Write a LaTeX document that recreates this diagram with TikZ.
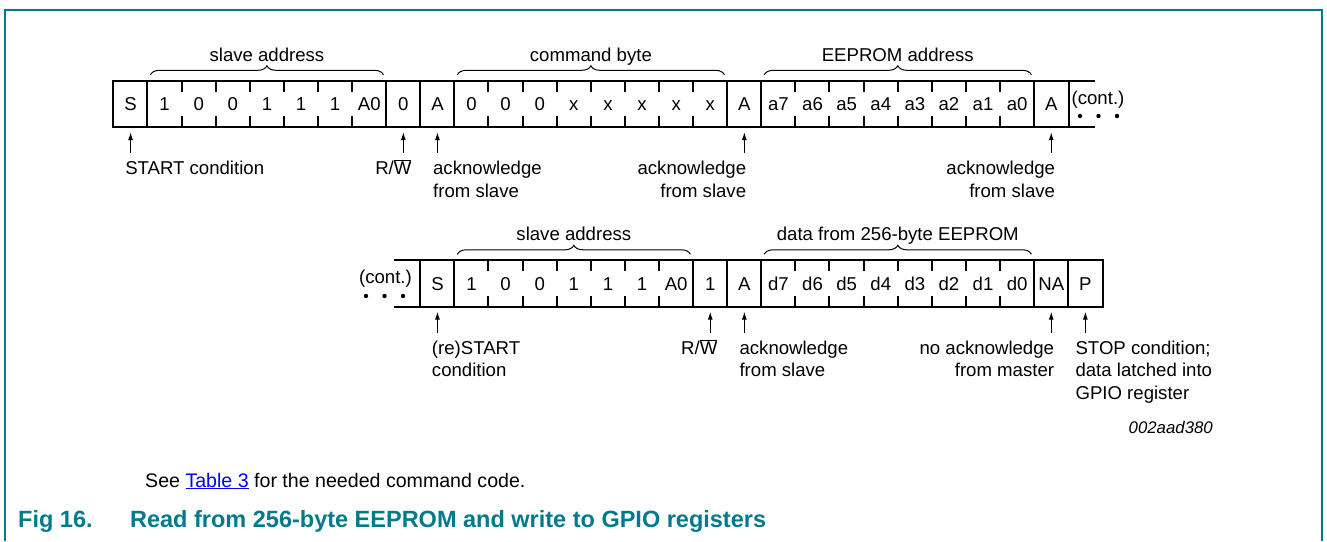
\documentclass[tikz,border=0pt]{standalone}
\usepackage{fontspec}
\setmainfont{Liberation Sans}
\usepackage{tikz}
\usetikzlibrary{positioning, arrows.meta, calc, decorations.pathreplacing}
\usepackage{xcolor}
\definecolor{nxpteal}{RGB}{0,122,140}
\definecolor{linkblue}{RGB}{0,0,255}
\newcommand{\lblfont}{\fontsize{18.6}{22.5}\selectfont}
\newcommand{\rw}{R/$\overline{\mbox{W}}$}

\begin{document}
\begin{tikzpicture}[x=1pt, y=-1pt,
	bitcell/.style={minimum width=34.1pt, minimum height=46pt, inner sep=0pt, text height=13.3pt, text depth=0pt, font=\lblfont},
	wall/.style={line width=2pt, line cap=rect},
	ackarrow/.style={line width=1pt, -{Latex[length=8pt, width=5pt]}},
	brc/.style={line width=1pt, decorate, decoration={brace, amplitude=9pt}},
	lbl/.style={font=\lblfont, inner sep=0pt, align=left},
	outerframe/.style={line width=1.6pt, draw=nxpteal},
	]
	\useasboundingbox (0,0) rectangle (1327,541);
	\draw[outerframe] (5,541) -- (5,10) -- (1322,10) -- (1322,541);
	
	\foreach \t [count=\i from 0] in {S,1,0,0,1,1,1,A0,0,A,0,0,0,x,x,x,x,x,A,a7,a6,a5,a4,a3,a2,a1,a0,A}
		\node[bitcell] (a\i) at (130.55+34.1*\i, 104) {\t};
	\foreach \t [count=\i from 9] in {S,1,0,0,1,1,1,A0,1,A,d7,d6,d5,d4,d3,d2,d1,d0,NA,P}
		\node[bitcell] (b\i) at (130.55+34.1*\i, 283.5) {\t};
	
	\draw[wall] (a0.north west) -- ([xshift=25pt]a27.north east);
	\draw[wall] (a0.south west) -- ([xshift=25pt]a27.south east);
	\foreach \i in {0,1,8,9,10,18,19,27}
		\draw[wall] (a\i.north west) -- (a\i.south west);
	\draw[wall] (a27.north east) -- (a27.south east);
	\foreach \s/\e in {2/7,11/17,20/26}
		\foreach \i in {\s,...,\e} {
			\draw[wall] (a\i.north west) -- ++(0,10);
			\draw[wall] (a\i.south west) -- ++(0,-10);
		}
	
	\draw[wall] ([xshift=-25pt]b9.north west) -- (b28.north east);
	\draw[wall] ([xshift=-25pt]b9.south west) -- (b28.south east);
	\foreach \i in {9,10,17,18,19,27,28}
		\draw[wall] (b\i.north west) -- (b\i.south west);
	\draw[wall] (b28.north east) -- (b28.south east);
	\foreach \s/\e in {11/16,20/26}
		\foreach \i in {\s,...,\e} {
			\draw[wall] (b\i.north west) -- ++(0,10);
			\draw[wall] (b\i.south west) -- ++(0,-10);
		}
	
	\node[lbl, anchor=base] (conta) at (1098,104) {(cont.)};
	\foreach \k in {0,1,2}
		\fill (1080+18.5*\k,116) circle (2.2pt);
	\node[lbl, anchor=base] (contb) at (385.5,283) {(cont.)};
	\foreach \k in {0,1,2}
		\fill (366+18.5*\k,296) circle (2.2pt);
	
	\draw[brc] ([xshift=3pt, yshift=6pt]a1.north west) -- ([xshift=-3pt, yshift=6pt]a7.north east)
		node[lbl, midway, anchor=base, yshift=13.5pt] (saa) {slave address};
	\draw[brc] ([xshift=3pt, yshift=6pt]a10.north west) -- ([xshift=-3pt, yshift=6pt]a17.north east)
		node[lbl, midway, anchor=base, yshift=13.5pt] (cmd) {command byte};
	\draw[brc] ([xshift=3pt, yshift=6pt]a19.north west) -- ([xshift=-3pt, yshift=6pt]a26.north east)
		node[lbl, midway, anchor=base, yshift=13.5pt] (eea) {EEPROM address};
	\draw[brc] ([xshift=3pt, yshift=6pt]b10.north west) -- ([xshift=-3pt, yshift=6pt]b16.north east)
		node[lbl, midway, anchor=base, yshift=13.5pt] (sab) {slave address};
	\draw[brc] ([xshift=3pt, yshift=6pt]b19.north west) -- ([xshift=-3pt, yshift=6pt]b26.north east)
		node[lbl, midway, anchor=base, yshift=13.5pt] (dat) {data from 256-byte EEPROM};
	
	\foreach \i in {0,8,9,18,27}
		\draw[ackarrow] ([yshift=-26pt]a\i.south) -- ([yshift=-5pt]a\i.south);
	\foreach \i in {9,17,18,27,28}
		\draw[ackarrow] ([yshift=-26pt]b\i.south) -- ([yshift=-5pt]b\i.south);
	
	\node[lbl, anchor=north west] (sta) at ([xshift=-5.5pt, yshift=-34pt]a0.south) {START condition};
	\node[lbl, anchor=base] (rwa) at ([xshift=-10pt, yshift=-47.6pt]a8.south) {\rw};
	\node[lbl, anchor=north west] (aka) at ([xshift=-4.5pt, yshift=-34pt]a9.south) {acknowledge\\from slave};
	\node[lbl, anchor=north east, align=right] (akb) at ([xshift=2pt, yshift=-34pt]a18.south) {acknowledge\\from slave};
	\node[lbl, anchor=north east, align=right] (akc) at ([xshift=4pt, yshift=-34pt]a27.south) {acknowledge\\from slave};
	
	\node[lbl, anchor=north west] (stb) at ([xshift=-5.7pt, yshift=-34pt]b9.south) {(re)START\\condition};
	\node[lbl, anchor=base] (rwb) at ([xshift=-11pt, yshift=-47.6pt]b17.south) {\rw};
	\node[lbl, anchor=north west] (akd) at ([xshift=-5pt, yshift=-34pt]b18.south) {acknowledge\\from slave};
	\node[lbl, anchor=north east, align=right] (nak) at ([xshift=3pt, yshift=-34pt]b27.south) {no acknowledge\\from master};
	\node[lbl, anchor=north west] (stp) at ([xshift=-10pt, yshift=-34pt]b28.south) {STOP condition;\\data latched into\\GPIO register};
	
	\node[inner sep=0pt, anchor=base east, font=\fontsize{16.8}{20}\selectfont\itshape] (fid) at (1213,433) {002aad380};
	\node[inner sep=0pt, anchor=base west, font=\fontsize{19.6}{23}\selectfont] (see) at (145,487)
		{See \textcolor{linkblue}{\underline{Table 3}} for the needed command code.};
	\node[inner sep=0pt, anchor=base west, text=nxpteal, font=\fontsize{23.5}{28}\selectfont\bfseries] (cap) at (18,527)
		{Fig 16.\hspace{37.5pt}Read from 256-byte EEPROM and write to GPIO registers};
\end{tikzpicture}
\end{document}
